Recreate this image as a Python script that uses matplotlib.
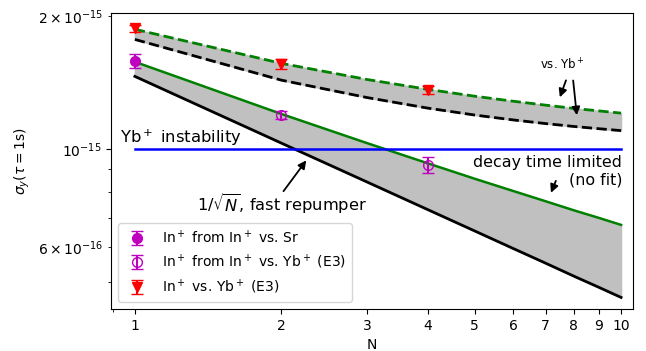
#! /usr/bin/env python

import numpy as np
import matplotlib
matplotlib.use('Agg')
import matplotlib.pyplot as plt
from matplotlib.ticker import ScalarFormatter, NullFormatter

### number of ions
N = [1, 2, 3, 4, 5, 6, 7, 8, 9, 10]

### instability curves (units of 1e-15)
fast_repumper  = [1.46, 1.032, 0.843, 0.730, 0.653, 0.596, 0.552, 0.516, 0.487, 0.462]
decay_limited  = [1.575, 1.201, 1.032, 0.929, 0.857, 0.804, 0.762, 0.727, 0.699, 0.674]
vsYb_fast      = [1.770, 1.432, 1.308, 1.238, 1.194, 1.164, 1.142, 1.125, 1.112, 1.101]
vsYb_decay     = [1.866, 1.563, 1.437, 1.365, 1.317, 1.283, 1.257, 1.236, 1.220, 1.206]
yb_instability = 1.0

### measurements (units of 1e-15)
N_sr    = [1]
sig_sr  = [1.583]
err_sr  = [0.055]
N_yb    = [2, 4]
sig_yb  = [1.195, 0.921]
err_yb  = [0.025, 0.04]
N_e3    = [1, 2, 4]
sig_e3  = [1.875, 1.56, 1.36]
err_e3  = [0.035, 0.04, 0.03]

scale = 1e-15

### figure
fig = plt.figure(figsize=(6.46, 3.51), dpi=100)
ax = fig.add_axes([0.1718, 0.1197, 0.808, 0.843])
ax.set_xscale('log')
ax.set_yscale('log')

### bands
ax.fill_between(N, np.array(fast_repumper)*scale, np.array(decay_limited)*scale, color='silver')
ax.fill_between(N, np.array(vsYb_fast)*scale, np.array(vsYb_decay)*scale, color='silver')

### lines
ax.plot(N, np.array(fast_repumper)*scale, 'k-', lw=2)
ax.plot(N, np.array(decay_limited)*scale, 'g-', lw=1.8)
ax.plot(N, np.array(vsYb_fast)*scale, 'k--', lw=2)
ax.plot(N, np.array(vsYb_decay)*scale, 'g--', lw=2)
ax.plot([N[0], N[-1]], [yb_instability*scale]*2, 'b-', lw=1.8)

### data points
ax.errorbar(N_sr, np.array(sig_sr)*scale, yerr=np.array(err_sr)*scale, fmt='o', color='m',
            ms=7, capsize=4, label='In$^+$ from In$^+$ vs. Sr')
ax.errorbar(N_yb, np.array(sig_yb)*scale, yerr=np.array(err_yb)*scale, fmt='o', color='m',
            mfc='none', ms=7, capsize=4, label='In$^+$ from In$^+$ vs. Yb$^+$ (E3)')
ax.errorbar(N_e3, np.array(sig_e3)*scale, yerr=np.array(err_e3)*scale, fmt='v', color='r',
            ms=7, capsize=4, label='In$^+$ vs. Yb$^+$ (E3)')

### annotations
ax.text(0.931, 1.033e-15, 'Yb$^+$ instability', fontsize=11.8, va='baseline', ha='left')
ax.text(2.006, 0.754e-15, r'$1/\sqrt{N}$, fast repumper', fontsize=11.7, va='center', ha='center')
ax.annotate('', xy=(2.27, 0.954e-15), xytext=(2.006, 0.794e-15),
            arrowprops=dict(arrowstyle='-|>', color='k', lw=1.3, mutation_scale=12))
ax.text(10.05, 0.891e-15, 'decay time limited\n(no fit)', fontsize=11.4, va='center', ha='right',
        multialignment='right')
ax.annotate('', xy=(7.14, 0.786e-15), xytext=(7.38, 0.859e-15),
            arrowprops=dict(arrowstyle='-|>', color='k', lw=1.3, mutation_scale=12))
ax.text(7.56, 1.552e-15, 'vs. Yb$^+$', fontsize=8.5, va='center', ha='center')
ax.annotate('', xy=(7.45, 1.292e-15), xytext=(7.74, 1.45e-15),
            arrowprops=dict(arrowstyle='-|>', color='k', lw=1.3, mutation_scale=12))
ax.annotate('', xy=(8.12, 1.176e-15), xytext=(7.96, 1.45e-15),
            arrowprops=dict(arrowstyle='-|>', color='k', lw=1.3, mutation_scale=12))

### axes
ax.set_xlim(0.893, 10.58)
ax.set_ylim(4.35e-16, 2.03e-15)
ax.set_xticks(N)
ax.xaxis.set_major_formatter(ScalarFormatter())
ax.xaxis.set_minor_formatter(NullFormatter())
ax.set_xlabel('N')
ax.set_ylabel(r'$\sigma_y(\tau = 1\mathrm{s})$')
ax.legend(loc='lower left', fontsize=10)

plt.savefig('out.png', dpi=100)
